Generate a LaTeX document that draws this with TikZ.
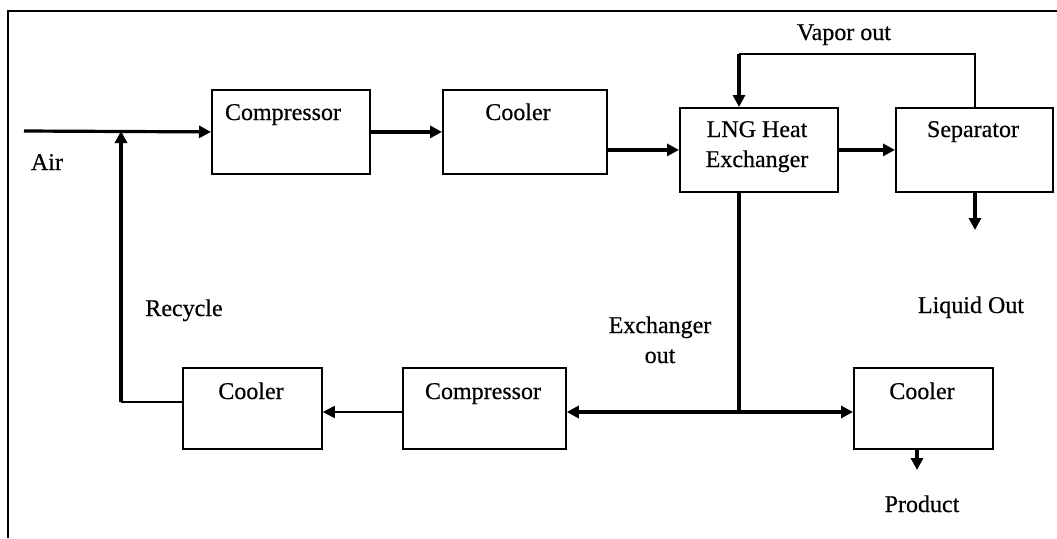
\documentclass[tikz,border=0pt]{standalone}
\usepackage{fontspec}
\setmainfont{Liberation Serif}
\newfontfamily\lblfont{Liberation Serif}[FakeBold=0.5,BoldFont=Liberation Serif,BoldFeatures={FakeBold=0.5}]
\usetikzlibrary{arrows.meta}
\begin{document}
\begin{tikzpicture}[x=0.5pt,y=-0.5pt,
  box/.style={draw,line width=0.9pt,anchor=north west,inner sep=0pt},
  lbl/.style={anchor=base,inner sep=0pt,font=\lblfont\bfseries\fontsize{12}{14}\selectfont},
  flow/.style={line width=1.6pt,-{Triangle[length=6pt,width=6pt]}},
  thinflow/.style={line width=0.9pt,-{Triangle[length=6pt,width=6pt]}},
  pipe/.style={line width=1.6pt},
  thinpipe/.style={line width=0.9pt}]
\useasboundingbox (0,0) rectangle (1057,538);
% frame
\draw[line width=1pt] (8,538) -- (8,11) -- (1057,11);

% boxes
\node[box,minimum width=79pt,minimum height=42pt] (comp1) at (211,89) {};
\node[box,minimum width=82pt,minimum height=42pt] (cool1) at (442,89) {};
\node[box,minimum width=79pt,minimum height=42pt] (lng) at (679,107) {};
\node[box,minimum width=78.5pt,minimum height=42pt] (sep) at (895,107) {};
\node[box,minimum width=69.5pt,minimum height=40.5pt] (cool3) at (853,367) {};
\node[box,minimum width=81.5pt,minimum height=40.5pt] (comp2) at (402,367) {};
\node[box,minimum width=69.5pt,minimum height=40.5pt] (cool2) at (182,367) {};

% box labels
\node[lbl] (tcomp1) at (283,120) {Compressor};
\node[lbl] (tcool1) at (518,120) {Cooler};
\node[lbl] (tlng1) at (757,137) {LNG Heat};
\node[lbl] (tlng2) at (757,167) {Exchanger};
\node[lbl] (tsep) at (973,137) {Separator};
\node[lbl] (tcool3) at (922,399) {Cooler};
\node[lbl] (tcomp2) at (483,399) {Compressor};
\node[lbl] (tcool2) at (251,399) {Cooler};

% stream labels
\node[lbl] (tair) at (47,170) {Air};
\node[lbl] (tvap) at (844,40) {Vapor out};
\node[lbl] (tliq) at (971,313) {Liquid Out};
\node[lbl] (texo1) at (660,333) {Exchanger};
\node[lbl] (texo2) at (660,363) {out};
\node[lbl] (trec) at (184,316) {Recycle};
\node[lbl] (tprod) at (922,512) {Product};

% coordinates
\coordinate (airin) at (24,131);
\coordinate (vapturn) at (739,54);
\coordinate (liqend) at (975,230);
\coordinate (split) at (739,412);
\coordinate (rturn) at (121,402);
\coordinate (prodend) at (917,470);

% connectors
\draw[flow] (airin) -- (comp1.west);
\draw[flow] (comp1.east) -- (cool1.west);
\draw[flow] (cool1.east |- lng.west) -- (lng.west);
\draw[flow] (lng.east) -- (sep.west);
\draw[thinpipe] (sep.north -| liqend) |- (vapturn);
\draw[flow] (vapturn) -- (vapturn |- lng.north);
\draw[flow] (sep.south -| liqend) -- (liqend);
\draw[pipe] (split |- lng.south) -- (split);
\draw[flow] (split) -- (split -| comp2.east);
\draw[flow] (split) -- (split -| cool3.west);
\draw[thinflow] (split -| comp2.west) -- (split -| cool2.east);
\draw[thinpipe] (rturn -| cool2.west) -- (rturn);
\draw[flow] (rturn) -- (rturn |- airin);
\draw[flow] (cool3.south -| prodend) -- (prodend);
\end{tikzpicture}
\end{document}
